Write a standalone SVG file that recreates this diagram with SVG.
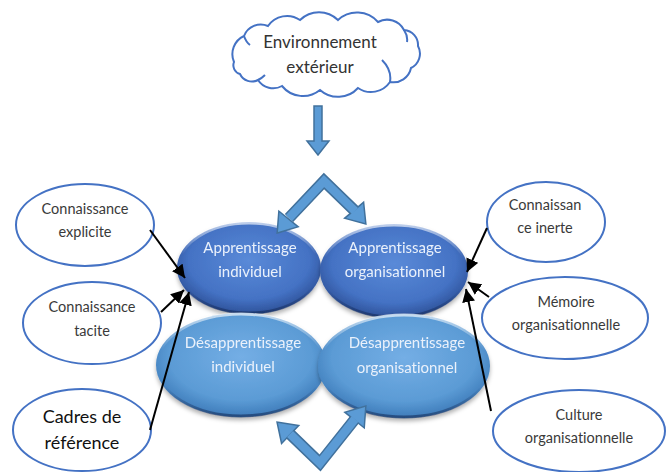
<svg xmlns="http://www.w3.org/2000/svg" width="667" height="472" viewBox="0 0 667 472">
  <defs>
    <style>
      .lbl { font-family: Lato, "Liberation Sans", sans-serif; text-anchor: middle; font-variant-ligatures: none; }
      .outer { fill: #ffffff; stroke: #4472c4; stroke-width: 2; }
      .outer-txt { fill: #3a3a3a; font-size: 14.5px; }
      .inner-txt { fill: #eaf1fb; font-size: 15px; }
      .rim { fill: none; stroke: url(#rimGrad); stroke-width: 3; }
      .link { stroke: #000; stroke-width: 2; fill: none; marker-end: url(#tip); }
      .blk-out { fill: none; stroke: #41719c; stroke-width: 11.5; stroke-linejoin: miter; }
      .blk-in { fill: none; stroke: #5b9bd5; stroke-width: 8.5; stroke-linejoin: miter; }
      .head-out { fill: #41719c; stroke: #41719c; stroke-width: 3; stroke-linejoin: miter; }
      .head-in { fill: #5b9bd5; }
    </style>
    <radialGradient id="darkGrad" cx="50%" cy="42%" r="60%">
      <stop offset="0" stop-color="#5a8ad8"/>
      <stop offset="0.7" stop-color="#4472c4"/>
      <stop offset="1" stop-color="#2b4d93"/>
    </radialGradient>
    <radialGradient id="lightGrad" cx="50%" cy="42%" r="60%">
      <stop offset="0" stop-color="#74aee5"/>
      <stop offset="0.7" stop-color="#5b9bd5"/>
      <stop offset="1" stop-color="#3a77b6"/>
    </radialGradient>
    <linearGradient id="rimGrad" x1="0" y1="0" x2="0" y2="1">
      <stop offset="0" stop-color="#ffffff" stop-opacity="0.65"/>
      <stop offset="0.35" stop-color="#ffffff" stop-opacity="0"/>
      <stop offset="0.7" stop-color="#10244f" stop-opacity="0"/>
      <stop offset="1" stop-color="#10244f" stop-opacity="0.55"/>
    </linearGradient>
    <filter id="shade" x="-10%" y="-10%" width="120%" height="130%">
      <feDropShadow dx="0" dy="3" stdDeviation="2" flood-color="#000" flood-opacity="0.3"/>
    </filter>
    <marker id="tip" viewBox="0 0 10 10" refX="10" refY="5" markerWidth="6.5" markerHeight="6.5" orient="auto" markerUnits="strokeWidth">
      <path d="M0,0 L10,5 L0,10 z" fill="#000"/>
    </marker>
  </defs>

  <rect width="667" height="472" fill="#ffffff"/>

  <!-- cloud -->
  <g id="environnement">
    <path class="outer" d="M234,62 A20,20 0 0 1 244,36 A18,18 0 0 1 268,26 A23,23 0 0 1 300,20 A27,27 0 0 1 338,20 A28,28 0 0 1 378,22 A19,19 0 0 1 404,30 A15,15 0 0 1 418,46 A16,16 0 0 1 411,68 A18,18 0 0 1 390,82 A23,23 0 0 1 358,88 A27,27 0 0 1 320,90 A27,27 0 0 1 282,86 A18,18 0 0 1 258,80 A13,13 0 0 1 240,74 A9,9 0 0 1 234,62 Z"/>
    <path d="M244,36 Q246,42 250,45 M404,30 Q408,36 407,42 M390,82 Q392,70 382,60 M258,80 Q262,78 265,75" fill="none" stroke="#4472c4" stroke-width="2"/>
    <text class="lbl" x="320" y="48" font-size="17" fill="#333333">Environnement</text>
    <text class="lbl" x="320" y="73" font-size="17" fill="#333333">extérieur</text>
  </g>

  <!-- central learning / unlearning ovals -->
  <g id="apprentissage-individuel" filter="url(#shade)">
    <ellipse cx="249" cy="268" rx="72" ry="46" fill="url(#darkGrad)"/>
    <ellipse class="rim" cx="249" cy="268" rx="71" ry="45"/>
    <text class="lbl inner-txt" x="250" y="253">Apprentissage</text>
    <text class="lbl inner-txt" x="250" y="277">individuel</text>
  </g>
  <g id="apprentissage-organisationnel" filter="url(#shade)">
    <ellipse cx="394" cy="271" rx="74" ry="47" fill="url(#darkGrad)"/>
    <ellipse class="rim" cx="394" cy="271" rx="73" ry="46"/>
    <text class="lbl inner-txt" x="395" y="253">Apprentissage</text>
    <text class="lbl inner-txt" x="395" y="277">organisationnel</text>
  </g>
  <g id="desapprentissage-individuel" filter="url(#shade)">
    <ellipse cx="241" cy="365" rx="85" ry="52" fill="url(#lightGrad)"/>
    <ellipse class="rim" cx="241" cy="365" rx="84" ry="51"/>
    <text class="lbl inner-txt" x="243" y="348">Désapprentissage</text>
    <text class="lbl inner-txt" x="243" y="372">individuel</text>
  </g>
  <g id="desapprentissage-organisationnel" filter="url(#shade)">
    <ellipse cx="404" cy="366" rx="86" ry="52" fill="url(#lightGrad)"/>
    <ellipse class="rim" cx="404" cy="366" rx="85" ry="51"/>
    <text class="lbl inner-txt" x="407" y="348">Désapprentissage</text>
    <text class="lbl inner-txt" x="407" y="373">organisationnel</text>
  </g>

  <!-- left-hand factors -->
  <g id="connaissance-explicite">
    <ellipse class="outer" cx="85" cy="225" rx="69" ry="41"/>
    <text class="lbl outer-txt" x="85" y="214">Connaissance</text>
    <text class="lbl outer-txt" x="85" y="237">explicite</text>
  </g>
  <g id="connaissance-tacite">
    <ellipse class="outer" cx="92" cy="323" rx="69" ry="41"/>
    <text class="lbl outer-txt" x="92" y="312">Connaissance</text>
    <text class="lbl outer-txt" x="92" y="336">tacite</text>
  </g>
  <g id="cadres-de-reference">
    <ellipse class="outer" cx="82" cy="430" rx="69" ry="41"/>
    <text class="lbl" x="82" y="423" font-size="18" fill="#111111">Cadres de</text>
    <text class="lbl" x="82" y="449" font-size="18" fill="#111111">référence</text>
  </g>

  <!-- right-hand factors -->
  <g id="connaissance-inerte">
    <ellipse class="outer" cx="546" cy="222" rx="59" ry="40"/>
    <text class="lbl outer-txt" x="545" y="210">Connaissan</text>
    <text class="lbl outer-txt" x="545" y="233">ce inerte</text>
  </g>
  <g id="memoire-organisationnelle">
    <ellipse class="outer" cx="565" cy="318" rx="83" ry="41"/>
    <text class="lbl outer-txt" x="566" y="307">Mémoire</text>
    <text class="lbl outer-txt" x="566" y="330">organisationnelle</text>
  </g>
  <g id="culture-organisationnelle">
    <ellipse class="outer" cx="579" cy="431" rx="86" ry="41"/>
    <text class="lbl outer-txt" x="579" y="420">Culture</text>
    <text class="lbl outer-txt" x="579" y="443">organisationnelle</text>
  </g>

  <!-- connectors -->
  <g id="connectors">
    <!-- block arrow from the environment -->
    <path d="M314,106 H322 V141 H329 L318,155 L307,141 H314 Z" fill="#5b9bd5" stroke="#41719c" stroke-width="1.5" stroke-linejoin="miter"/>

    <!-- upper double block arrow -->
    <polyline class="blk-out" points="289,218 324,181 355,211"/>
    <polygon class="head-out" points="278,232 296.6,226.4 279.5,212.6"/>
    <polygon class="head-out" points="365,223 363,203.7 346.2,217.9"/>
    <polyline class="blk-in" points="289,218 324,181 355,211"/>
    <polygon class="head-in" points="278,232 296.6,226.4 279.5,212.6"/>
    <polygon class="head-in" points="365,223 363,203.7 346.2,217.9"/>

    <!-- lower double block arrow -->
    <polyline class="blk-out" points="290,434 320,463 355,419"/>
    <polygon class="head-out" points="278,423 297.2,426 282,442"/>
    <polygon class="head-out" points="365,407 363.6,426.4 346.4,412.6"/>
    <polyline class="blk-in" points="290,434 320,463 355,419"/>
    <polygon class="head-in" points="278,423 297.2,426 282,442"/>
    <polygon class="head-in" points="365,407 363.6,426.4 346.4,412.6"/>

    <!-- factor links -->
    <line class="link" x1="150" y1="230" x2="185" y2="278"/>
    <line class="link" x1="161" y1="312" x2="184" y2="290"/>
    <line class="link" x1="150" y1="430" x2="189" y2="292"/>
    <line class="link" x1="487" y1="228" x2="467" y2="272"/>
    <line class="link" x1="489" y1="297" x2="468" y2="282"/>
    <line class="link" x1="491" y1="411" x2="466" y2="289"/>
  </g>
</svg>
